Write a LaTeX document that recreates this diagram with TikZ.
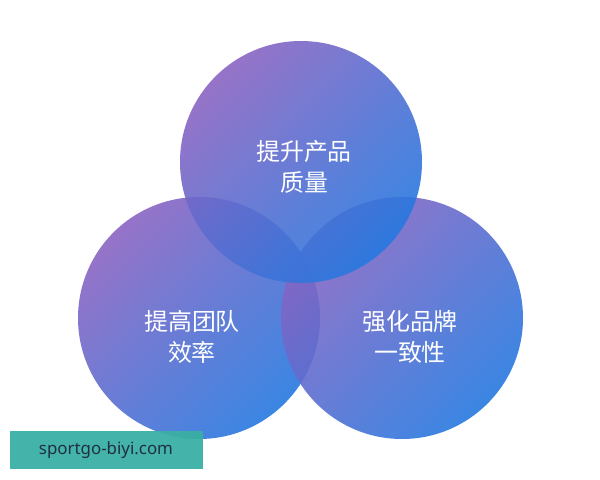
\documentclass[tikz,border=0pt]{standalone}
\usepackage{fontspec}
\setmainfont{Noto Sans}
\newfontfamily\cjk{Noto Sans CJK SC}
\usepackage{tikz}
\usetikzlibrary{calc}
\definecolor{vpurple}{HTML}{8A64C2}
\definecolor{vblue}{HTML}{2579E0}
\definecolor{banner}{HTML}{3AAFA4}
\definecolor{bantext}{HTML}{1E3042}
\tikzset{ball/.style={top color=vpurple,bottom color=vblue,shading angle=45,fill opacity=0.9,draw=none}}
\tikzset{l/.style={text=white,font=\cjk\fontsize{17}{22}\selectfont,align=center}}

\begin{document}
\begin{tikzpicture}[x=0.025cm,y=-0.025cm]
        \useasboundingbox (0,0) rectangle (600,480);
        \shade[ball] (199,318) circle (121);
        \shade[ball] (402,318) circle (121);
        \shade[ball] (301,162) circle (121);
        \node [l] (top) at (304,167) {提升产品\\质量};
        \node [l] (lft) at (192,337) {提高团队\\效率};
        \node [l] (rgt) at (410,337) {强化品牌\\一致性};
        \fill[banner,fill opacity=0.95] (10,431) rectangle (203,469);
        \node [text=bantext,font=\fontsize{12}{12}\selectfont] (site) at (106,450) {sportgo-biyi.com};
      \end{tikzpicture}
\end{document}
